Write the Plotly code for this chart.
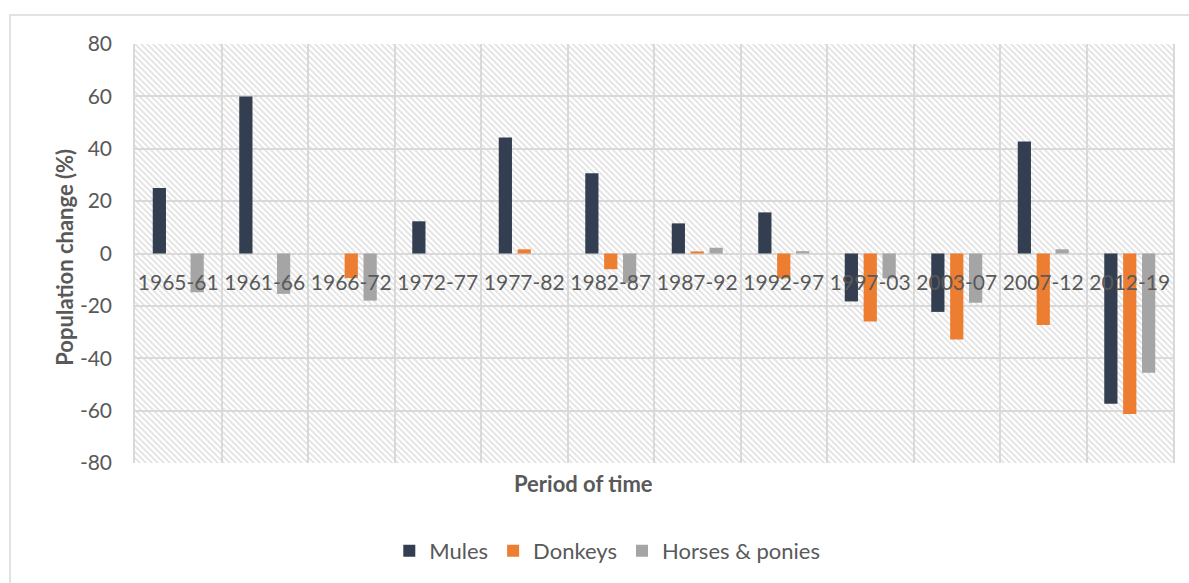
import base64
import plotly.graph_objects as go

categories = ["1965-61", "1961-66", "1966-72", "1972-77", "1977-82", "1982-87",
              "1987-92", "1992-97", "1997-03", "2003-07", "2007-12", "2012-19"]
mules = [25, 60, None, 12.3, 44.3, 30.6, 11.5, 15.7, -18.3, -22.3, 42.8, -57.4]
donkeys = [None, None, -9.4, None, 1.6, -6.0, 0.8, -9.5, -26.0, -32.8, -27.3, -61.3]
horses = [-14.8, -15.4, -18.0, None, None, -11.2, 2.2, 0.9, -9.5, -18.8, 1.6, -45.5]

series_names = ["Mules", "Donkeys", "Horses & ponies"]
series_colors = ["#333F50", "#ED7D31", "#A5A5A5"]
y_ticks = [-80, -60, -40, -20, 0, 20, 40, 60, 80]
y_ticktext = ["-80", "-60", "-40", "-20", "0", "20", "40", "60", "80"]

FONT = "Lato"
TXT = "#595959"
GRID = "#D9D9D9"

# hatch background for plot area (decorative)
W, H = 1038, 419
svg = f'''<svg xmlns="http://www.w3.org/2000/svg" width="{W}" height="{H}" viewBox="0 0 {W} {H}" preserveAspectRatio="none">
<defs><pattern id="p" width="6" height="6" patternUnits="userSpaceOnUse">
<rect width="6" height="6" fill="white"/>
<path d="M-1,-1 L7,7 M-1,5 L1,7 M5,-1 L7,1" stroke="#E3E3E3" stroke-width="1.7"/>
</pattern></defs>
<rect width="{W}" height="{H}" fill="url(#p)"/></svg>'''
src = "data:image/svg+xml;base64," + base64.b64encode(svg.encode()).decode()

fig = go.Figure()
for name, vals, col in zip(series_names, [mules, donkeys, horses], series_colors):
    fig.add_trace(go.Bar(x=categories, y=vals, name=name,
                         marker=dict(color=col, line=dict(width=0))))

fig.update_layout(
    width=1189, height=583,
    margin=dict(l=135, r=16, t=44, b=120, autoexpand=False),
    paper_bgcolor="white",
    plot_bgcolor="rgba(0,0,0,0)",
    barmode="group", bargap=0.345, bargroupgap=0.3,
    font=dict(family=FONT, color=TXT, size=20),
    showlegend=True,
    legend=dict(orientation="h", x=0.455, y=-0.21, xanchor="center", yanchor="middle",
                font=dict(size=22, color=TXT), itemclick=False),
    xaxis=dict(type="category", tickson="boundaries", showgrid=True, gridcolor=GRID,
               gridwidth=1.5, ticks="", anchor="free", position=0.5, showline=False,
               tickangle=0, automargin=False, tickfont=dict(size=21, color=TXT),
               ticklabelstandoff=14),
    yaxis=dict(range=[-80, 80], tickvals=y_ticks, ticktext=y_ticktext, showgrid=True,
               gridcolor=GRID, gridwidth=1.5, zeroline=True, zerolinecolor=GRID,
               zerolinewidth=1.5, ticks="", automargin=False,
               tickfont=dict(size=21, color=TXT), ticklabelstandoff=17,
               showline=True, mirror=True, linecolor=GRID, linewidth=1.5),
    images=[dict(source=src, xref="paper", yref="paper", x=0, y=1, sizex=1, sizey=1,
                 xanchor="left", yanchor="top", sizing="stretch", layer="below")],
    shapes=[dict(type="rect", xref="paper", yref="paper", x0=-0.1204, x1=1.03,
                 y0=-0.32, y1=1.069, line=dict(color=GRID, width=1.5))],
    annotations=[
        dict(text="<b>Period of time</b>", xref="paper", yref="paper", x=0.432, y=-0.05,
             xanchor="center", yanchor="middle", showarrow=False,
             font=dict(size=22, color=TXT, family=FONT)),
        dict(text="<b>Population change (%)</b>", xref="paper", yref="paper",
             x=-0.0674, y=0.49, xanchor="center", yanchor="middle", textangle=-90,
             showarrow=False, font=dict(size=22, color=TXT, family=FONT)),
    ],
)

fig.write_html("out.html", config={"displayModeBar": False},
               post_script="document.body.style.margin='0';document.body.style.overflow='hidden';")
